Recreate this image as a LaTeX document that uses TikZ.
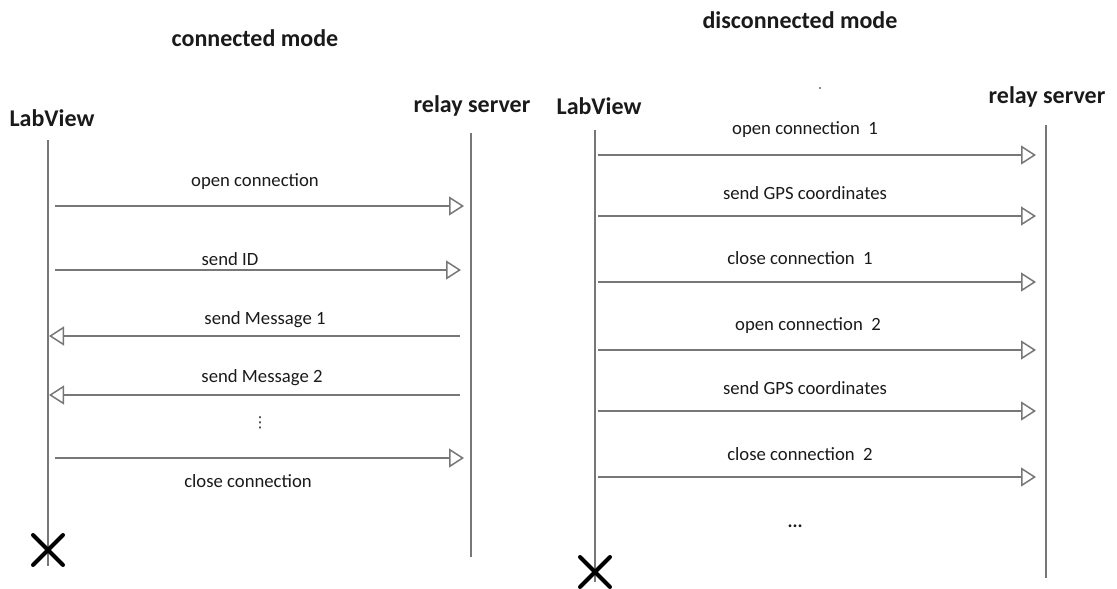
\documentclass[tikz,border=0pt]{standalone}
\usepackage{fontspec}
\setmainfont{Carlito}
\newfontfamily\dejavu{DejaVu Sans}
\usetikzlibrary{arrows.meta,calc}
\definecolor{linegray}{HTML}{777777}
\definecolor{txt}{HTML}{1A1A1A}
\tikzset{
  title/.style={font=\fontsize{24}{28}\selectfont\bfseries, text=txt, inner sep=0pt},
  actor/.style={font=\fontsize{24}{28}\selectfont\bfseries, text=txt, inner sep=0pt},
  msg/.style={font=\fontsize{18.7}{22}\selectfont, text=txt, inner sep=0pt},
  life/.style={draw=linegray, line width=1.5pt},
  call/.style={draw=linegray, line width=1.5pt, -{Triangle[open, length=15pt, width=19pt, line width=1.5pt]}},
  endx/.style={draw=black, line width=4pt, line cap=round},
}
\begin{document}
\begin{tikzpicture}[x=1pt,y=-1pt]
\useasboundingbox (0,0) rectangle (1117,589);
% ---------- connected mode ----------
\node[title] (t1) at (255,38) {connected mode};
\node[actor] (lv1) at (52,118) {LabView};
\node[actor] (rs1) at (472,106) {relay server};
\coordinate (lv1top) at (48,140);
\coordinate (lv1bot) at (48,566);
\coordinate (rs1top) at (471,133);
\coordinate (rs1bot) at (471,557);
\draw[life] (lv1top) -- (lv1bot);
\draw[life] (rs1top) -- (rs1bot);
\coordinate (a1s) at (55,206); \coordinate (a1e) at (464,206);
\coordinate (a2s) at (55,270); \coordinate (a2e) at (461,270);
\coordinate (a3s) at (460,336); \coordinate (a3e) at (49,336);
\coordinate (a4s) at (460,395); \coordinate (a4e) at (49,395);
\coordinate (a5s) at (55,458); \coordinate (a5e) at (464,458);
\draw[call] (a1s) -- (a1e);
\draw[call] (a2s) -- (a2e);
\draw[call] (a3s) -- (a3e);
\draw[call] (a4s) -- (a4e);
\draw[call] (a5s) -- (a5e);
\node[msg] (m1) at (255,182) {open connection};
\node[msg] (m2) at (230,259) {send ID};
\node[msg] (m3) at (265,320) {send Message 1};
\node[msg] (m4) at (262,378) {send Message 2};
\node[msg, font=\dejavu\fontsize{15}{18}\selectfont] (m5) at (260,423) {⋮};
\node[msg] (m6) at (248,481) {close connection};
\coordinate (x1) at (48,550);
\draw[endx] ($(x1)+(-15,-15)$) -- ($(x1)+(15,15)$);
\draw[endx] ($(x1)+(-15,15)$) -- ($(x1)+(15,-15)$);
% ---------- disconnected mode ----------
\node[title] (t2) at (800,20) {disconnected mode};
\node[actor] (lv2) at (599,106) {LabView};
\node[actor] (rs2) at (1047,97) {relay server};
\fill[txt] (820,88) circle (0.8);
\coordinate (lv2top) at (595,130);
\coordinate (lv2bot) at (595,582);
\coordinate (rs2top) at (1046,125);
\coordinate (rs2bot) at (1046,578);
\draw[life] (lv2top) -- (lv2bot);
\draw[life] (rs2top) -- (rs2bot);
\foreach \i/\y in {1/155,2/216,3/282,4/350,5/411,6/477}{
  \coordinate (b\i s) at (598,\y);
  \coordinate (b\i e) at (1036,\y);
  \draw[call] (b\i s) -- (b\i e);
}
\node[msg] (n1) at (805,130) {open connection\ \ 1};
\node[msg] (n2) at (805,193) {send GPS coordinates};
\node[msg] (n3) at (800,258) {close connection\ \ 1};
\node[msg] (n4) at (808,326) {open connection\ \ 2};
\node[msg] (n5) at (805,388) {send GPS coordinates};
\node[msg] (n6) at (800,454) {close connection\ \ 2};
\node[msg, font=\fontsize{18.7}{22}\selectfont\bfseries] (n7) at (795,526) {...};
\coordinate (x2) at (595,572);
\draw[endx] ($(x2)+(-15,-15)$) -- ($(x2)+(15,15)$);
\draw[endx] ($(x2)+(-15,15)$) -- ($(x2)+(15,-15)$);
\end{tikzpicture}
\end{document}
